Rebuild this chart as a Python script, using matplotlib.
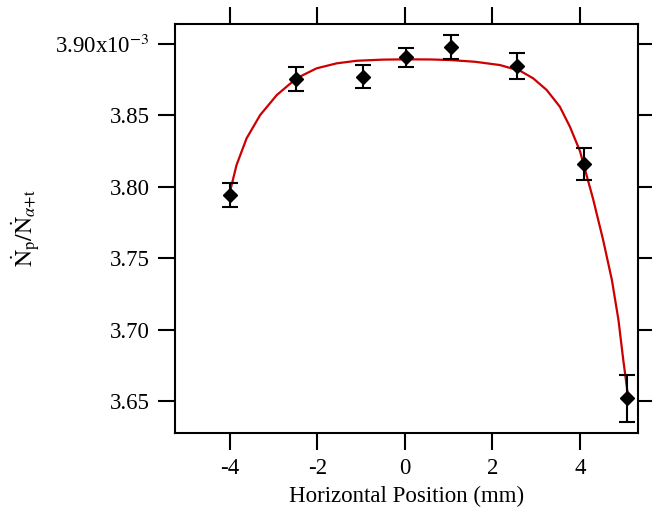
import matplotlib
matplotlib.use("Agg")
import matplotlib.pyplot as plt

# measured ratio (units of 1e-3)
pos = [-4.0, -2.49, -0.96, 0.02, 1.05, 2.56, 4.09, 5.07]
ratio = [3.7944, 3.8755, 3.8772, 3.8907, 3.8978, 3.8848, 3.8160, 3.6520]
err = [0.0084, 0.0084, 0.0082, 0.0066, 0.0084, 0.0090, 0.0112, 0.0164]

# fit curve
fit_x = [-4.0, -3.85, -3.62, -3.31, -2.93, -2.48, -2.02, -1.56, -1.10, -0.50,
         0.04, 0.60, 1.03, 1.60, 2.17, 2.63, 2.93, 3.24, 3.54, 3.77,
         4.00, 4.30, 4.53, 4.73, 4.88, 4.99, 5.10]
fit_y = [3.7966, 3.8153, 3.8340, 3.8503, 3.8643, 3.8760, 3.8830, 3.8865, 3.8883, 3.8891,
         3.8893, 3.8892, 3.8888, 3.8876, 3.8853, 3.8813, 3.8760, 3.8678, 3.8561, 3.8421,
         3.8250, 3.7915, 3.7627, 3.7347, 3.7067, 3.6787, 3.6530]

yticks = [3.65, 3.70, 3.75, 3.80, 3.85, 3.90]
ytick_labels = ["3.65", "3.70", "3.75", "3.80", "3.85", r"3.90x10$^{-3}$"]
xticks = [-4, -2, 0, 2, 4]

plt.rcParams['font.family'] = ['Liberation Serif', 'DejaVu Serif']
plt.rcParams['mathtext.fontset'] = 'stix'

fig = plt.figure(figsize=(6.52, 5.12), dpi=100)
ax = fig.add_axes([0.2684, 0.1543, 0.7101, 0.7987])

ax.plot(fit_x, fit_y, color='#CC0000', lw=1.6, zorder=2)
ax.errorbar(pos, ratio, yerr=err, fmt='D', color='black', ms=7.5,
            ecolor='black', elinewidth=1.5, capsize=6, capthick=1.5, zorder=3)

ax.set_xlim(-5.257, 5.326)
ax.set_ylim(3.6276, 3.914)
ax.set_xticks(xticks)
ax.set_xticklabels([str(v) for v in xticks])
ax.set_yticks(yticks)
ax.set_yticklabels(ytick_labels)

ax.tick_params(direction='out', length=12, width=1.5, labelsize=16.5,
               top=True, right=True, labeltop=False, labelright=False)
ax.tick_params(axis='x', pad=6)
ax.tick_params(axis='y', pad=6)
for s in ax.spines.values():
    s.set_linewidth(1.5)

ax.set_xlabel('Horizontal Position (mm)', fontsize=16.5, labelpad=5)
ax.set_ylabel(r'$\dot{\mathrm{N}}_{\mathrm{p}}/\dot{\mathrm{N}}_{\alpha\mathrm{+t}}$', fontsize=17, labelpad=10)

fig.savefig('out.png', dpi=100)
